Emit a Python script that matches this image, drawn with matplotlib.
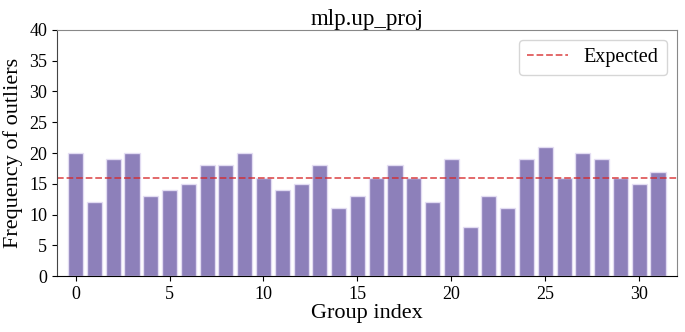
import matplotlib
matplotlib.use("Agg")
import matplotlib.pyplot as plt
import numpy as np

plt.rcParams["font.family"] = ["Liberation Serif", "DejaVu Serif"]

# ── Data ──────────────────────────────────────────────────────────────────────
groups = np.arange(32)
counts = [20, 12, 19, 20, 13, 14, 15, 18, 18, 20, 16, 14, 15, 18, 11, 13,
          16, 18, 16, 12, 19, 8, 13, 11, 19, 21, 16, 20, 19, 16, 15, 17]
expected = 16

# ── Plot ──────────────────────────────────────────────────────────────────────
fig, ax = plt.subplots(figsize=(6.85, 3.32), dpi=100)
fig.subplots_adjust(left=0.083, right=0.988, top=0.91, bottom=0.168)

ax.bar(groups, counts, width=0.8, color="#8172b3", alpha=0.9,
       edgecolor="#e6e0f5", linewidth=1.0)
ax.axhline(expected, color="#d62728", alpha=0.75, linestyle="--",
           linewidth=1.3, label="Expected")

ax.set_xlim(-1, 32)
ax.set_ylim(0, 40)
ax.set_yticks(range(0, 41, 5))
ax.set_xticks(range(0, 31, 5))
ax.tick_params(labelsize=13)

ax.set_title("mlp.up_proj", fontsize=16.5, pad=3)
ax.set_xlabel("Group index", fontsize=16, labelpad=1)
ax.set_ylabel("Frequency of outliers", fontsize=16, labelpad=4)

for s in ("top", "right"):
    ax.spines[s].set_color("#888888")
ax.spines["left"].set_color("#444444")

ax.legend(loc="upper right", fontsize=14.5, handlelength=2.0)

fig.savefig("out.png", dpi=100, facecolor="white")
